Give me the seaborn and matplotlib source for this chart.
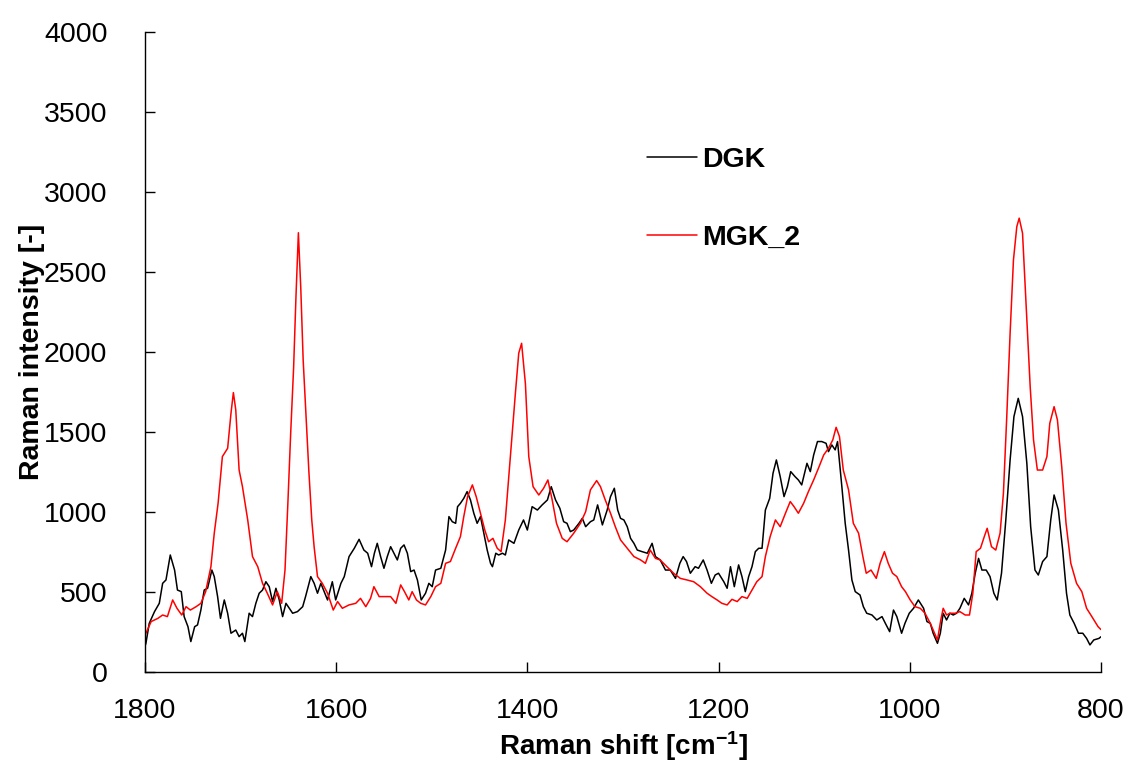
import matplotlib
matplotlib.use("Agg")
import matplotlib.pyplot as plt
import numpy as np
import pandas as pd
import seaborn as sns

# Raman spectra (wavenumber in cm^-1, intensity in counts)
dgk_shift = [1800, 1799, 1795.5, 1790, 1785, 1781.5, 1778, 1773.5, 1769, 1766, 1762, 1759, 1755, 1752, 1748,
             1745, 1741.5, 1738, 1734.5, 1730, 1727.5, 1724, 1721, 1717, 1713.5, 1710, 1705, 1701.5, 1698,
             1695.5, 1691, 1687.5, 1684, 1680.5, 1677, 1673.5, 1670, 1666.5, 1663, 1659.5, 1656, 1652.5,
             1649, 1645.5, 1640.5, 1635, 1632, 1626.5, 1623, 1619.5, 1616, 1612.5, 1609, 1604, 1600.5, 1595,
             1591.5, 1586.5, 1581, 1576, 1571, 1567, 1563, 1560, 1557, 1553.5, 1550, 1546.5, 1543, 1539.5,
             1536, 1532.5, 1529, 1525.5, 1522, 1518.5, 1515, 1511, 1506.5, 1503, 1499.5, 1496, 1490.5,
             1485.5, 1482, 1478.5, 1475, 1473, 1470, 1466.5, 1463, 1459.5, 1456, 1452.5, 1449, 1445.5, 1442,
             1438.5, 1436.5, 1433, 1430, 1426, 1423, 1419.5, 1414, 1409, 1404, 1400, 1395, 1389.5, 1384.5,
             1379, 1375, 1370.5, 1366, 1362, 1358.5, 1355, 1351.5, 1346, 1342.5, 1339, 1334, 1330.5, 1326.5,
             1321.5, 1316.5, 1313, 1309, 1305.5, 1302.5, 1299, 1295.5, 1292, 1288.5, 1285, 1280, 1274.5,
             1269.5, 1266, 1261, 1255.5, 1250.5, 1245, 1240.5, 1237, 1233.5, 1229.5, 1224.5, 1221, 1216,
             1212, 1207.5, 1203.5, 1200, 1194.5, 1191, 1187.5, 1183.5, 1179, 1175.5, 1172, 1168.5, 1165,
             1161.5, 1158, 1154.5, 1151, 1146.5, 1143, 1139.5, 1135.5, 1131.5, 1128, 1124.5, 1120, 1116.5,
             1113, 1107.5, 1104, 1100.5, 1096.5, 1092, 1087.5, 1085, 1081.5, 1078, 1075.5, 1071, 1067.5,
             1064, 1060.5, 1057, 1052, 1048.5, 1045, 1039.5, 1034.5, 1029, 1025.5, 1021, 1017, 1013.5,
             1008.5, 1005, 1000.5, 996, 991, 985.5, 982, 978.5, 975.5, 971, 968, 965, 961.5, 958, 954.5, 951,
             947.5, 943, 938.5, 935, 931.5, 928, 924.5, 920, 916, 912, 908.5, 904, 899.5, 895, 891, 886.5,
             882, 877.5, 873.5, 869, 865.5, 861, 856.5, 852.5, 849, 844.5, 840, 836, 832.5, 828, 823.5, 819,
             815, 811.5, 807.5, 802, 800]
dgk_intensity = [160, 179, 304, 377, 429, 554, 575, 731, 637, 512, 502, 346, 283, 190, 283,
                 294, 387, 512, 523, 637, 596, 471, 335, 450, 367, 242, 262, 221, 242,
                 190, 367, 346, 429, 492, 512, 564, 533, 440, 523, 450, 346, 429,
                 398, 367, 377, 408, 471, 596, 554, 492, 554, 502, 450, 564, 450, 554,
                 596, 721, 773, 829, 762, 742, 658, 742, 804, 721, 648, 721, 783, 742,
                 700, 773, 794, 742, 627, 637, 575, 450, 492, 554, 533, 637, 648,
                 762, 971, 939, 929, 1033, 1054, 1085, 1127, 1075, 992, 929, 971, 867, 762,
                 679, 658, 742, 731, 742, 731, 825, 804, 887, 950, 887, 1033, 1012, 1044,
                 1075, 1158, 1075, 1023, 939, 929, 877, 887, 929, 960, 908, 939, 950, 1044,
                 919, 1012, 1096, 1148, 1012, 960, 950, 908, 835, 804, 762, 752, 742,
                 804, 721, 700, 637, 637, 585, 679, 721, 690, 617, 658, 648, 700,
                 637, 554, 606, 617, 564, 523, 658, 533, 669, 596, 502, 596, 658,
                 752, 773, 773, 1012, 1085, 1242, 1325, 1221, 1096, 1158, 1252, 1221, 1200,
                 1169, 1304, 1252, 1356, 1440, 1440, 1429, 1377, 1419, 1388, 1440, 1158, 929,
                 762, 575, 502, 481, 408, 367, 356, 325, 346, 304, 252, 387, 346,
                 242, 304, 367, 398, 450, 398, 315, 304, 242, 179, 242, 367, 325, 367, 356, 367,
                 398, 460, 419, 492, 617, 710, 637, 637, 596, 492, 450, 617, 950, 1325, 1596, 1710,
                 1596, 1304, 908, 637, 606, 690, 721, 950, 1106, 1012, 762, 492, 356, 304, 242, 242,
                 210, 169, 200, 210, 220]

mgk_shift = [1800, 1799, 1793.5, 1786.5, 1781.5, 1776.5, 1771, 1766.5, 1761.5, 1757, 1752.5, 1746.5, 1741.5,
             1736.5, 1731, 1727.5, 1723.5, 1719, 1713.5, 1710, 1707.5, 1705, 1701.5, 1698, 1692.5, 1687.5,
             1682, 1677, 1672, 1666.5, 1661.5, 1657, 1653.5, 1650.5, 1647.5, 1644.5, 1642, 1639.5, 1637,
             1634.5, 1631.5, 1628.5, 1625.5, 1623, 1619.5, 1614.5, 1609, 1603, 1598.5, 1593.5, 1586.5,
             1579.5, 1574.5, 1569, 1564, 1560.5, 1555, 1548, 1543, 1537.5, 1532.5, 1528.5, 1524, 1520.5,
             1516, 1511.5, 1506.5, 1501, 1496, 1490.5, 1485.5, 1480.5, 1475, 1470, 1466.5, 1462.5, 1457.5,
             1453.5, 1449, 1444.5, 1440.5, 1436, 1431.5, 1427.5, 1423, 1417.5, 1412.5, 1409, 1406, 1402,
             1398.5, 1394, 1388, 1383, 1378.5, 1374, 1369.5, 1363.5, 1358.5, 1351.5, 1344.5, 1339, 1334,
             1327.5, 1323.5, 1318.5, 1313, 1308, 1302.5, 1295.5, 1288.5, 1281.5, 1276.5, 1271.5, 1266,
             1261, 1254, 1247, 1240, 1233, 1226, 1219, 1212, 1207, 1201.5, 1196.5, 1191, 1186, 1180.5,
             1175.5, 1170, 1165, 1160, 1154.5, 1151, 1146, 1140.5, 1135.5, 1130, 1125, 1121, 1116.5, 1111,
             1106, 1100.5, 1095.5, 1090, 1085, 1080.5, 1077, 1073.5, 1069.5, 1064, 1059, 1053.5, 1049,
             1045.5, 1040.5, 1035, 1031, 1026.5, 1022.5, 1018, 1013.5, 1008.5, 1004.5, 999.5, 994.5, 989,
             984, 978.5, 975.5, 971, 967.5, 965, 961.5, 958, 952.5, 947.5, 942, 937.5, 934, 930.5, 926, 922,
             919, 914.5, 910, 905.5, 902, 898.5, 895, 891.5, 888, 885.5, 882, 878.5, 874, 870.5, 866.5, 861,
             856.5, 853.5, 849, 845.5, 841, 836.5, 831.5, 825.5, 820, 815, 809.5, 803, 800]
mgk_intensity = [230, 242, 315, 335, 356, 346, 450, 398, 356, 408, 387, 408, 429,
                 502, 658, 867, 1054, 1346, 1398, 1617, 1746, 1638, 1262, 1158, 950, 721,
                 658, 554, 492, 419, 502, 429, 637, 1054, 1500, 1900, 2350, 2745, 2400,
                 1950, 1600, 1250, 950, 780, 596, 554, 492, 387, 440, 398, 419,
                 429, 460, 408, 460, 533, 471, 471, 471, 429, 544, 502, 450, 502,
                 450, 429, 419, 471, 533, 554, 679, 690, 773, 846, 971, 1096, 1169,
                 1096, 992, 887, 814, 835, 773, 752, 950, 1367, 1742, 1992, 2054, 1800,
                 1346, 1158, 1106, 1148, 1200, 1075, 929, 835, 814, 867, 929, 1002, 1138,
                 1196, 1158, 1075, 992, 908, 825, 773, 721, 700, 679, 762, 710,
                 700, 658, 617, 585, 575, 564, 533, 492, 471, 450, 429, 419, 454, 440,
                 471, 460, 512, 564, 596, 721, 846, 950, 908, 992, 1065, 1033, 992, 1054,
                 1127, 1200, 1273, 1356, 1398, 1450, 1529, 1471, 1262, 1138, 929, 867, 721,
                 617, 637, 585, 679, 752, 679, 617, 596, 533, 502, 450, 408, 398,
                 367, 304, 262, 200, 325, 398, 356, 367, 367, 377, 356, 356, 492, 752, 773, 846,
                 898, 783, 762, 867, 1117, 1596, 2117, 2575, 2783, 2836, 2742, 2325, 1783, 1450, 1262, 1262,
                 1346, 1554, 1658, 1575, 1283, 929, 679, 554, 502, 398, 346, 283, 265]

series_names = ["DGK", "MGK_2"]
series_colors = ["#000000", "#ff0000"]

x_ticks = [1800, 1600, 1400, 1200, 1000, 800]
y_ticks = [0, 500, 1000, 1500, 2000, 2500, 3000, 3500, 4000]

spectra = pd.concat([
    pd.DataFrame({"shift": dgk_shift, "intensity": dgk_intensity, "sample": series_names[0]}),
    pd.DataFrame({"shift": mgk_shift, "intensity": mgk_intensity, "sample": series_names[1]}),
], ignore_index=True)

sns.set_style("ticks")
plt.rcParams["font.family"] = ["Liberation Sans", "DejaVu Sans"]
plt.rcParams["mathtext.fontset"] = "custom"
plt.rcParams["mathtext.rm"] = "Liberation Sans:bold"
plt.rcParams["mathtext.bf"] = "Liberation Sans:bold"
plt.rcParams["mathtext.default"] = "bf"

fig = plt.figure(figsize=(11.28, 7.67), dpi=100)
ax = fig.add_axes([0.1285, 0.1239, 0.8475, 0.8345])

sns.lineplot(data=spectra, x="shift", y="intensity", hue="sample",
             palette=dict(zip(series_names, series_colors)),
             linewidth=1.1, estimator=None, sort=False, ax=ax)

ax.set_xlim(1800, 800)
ax.set_ylim(0, 4000)
ax.set_xticks(x_ticks)
ax.set_yticks(y_ticks)
ax.tick_params(axis="both", direction="in", length=7, width=1.0, color="black",
               labelsize=20.5, labelcolor="black")
ax.tick_params(axis="x", pad=18.5)
ax.tick_params(axis="y", pad=27)

for side in ("top", "right"):
    ax.spines[side].set_visible(False)
for side in ("left", "bottom"):
    ax.spines[side].set_color("black")
    ax.spines[side].set_linewidth(1.0)

ax.set_xlabel("Raman shift [cm$^{-1}$]", fontsize=20, fontweight="bold", color="black")
ax.set_ylabel("Raman intensity [-]", fontsize=20.5, fontweight="bold", color="black")
ax.xaxis.set_label_coords(0.5, -0.090)
ax.yaxis.set_label_coords(-0.105, 0.5)

leg = ax.legend(loc="upper left", bbox_to_anchor=(0.51, 0.842), frameon=False,
                handlelength=1.75, handletextpad=0.2, labelspacing=1.8, borderpad=0,
                prop={"size": 20.5, "weight": "bold"})
for text in leg.get_texts():
    text.set_color("black")
for line in leg.get_lines():
    line.set_linewidth(1.1)

fig.savefig("out.png", dpi=100)
